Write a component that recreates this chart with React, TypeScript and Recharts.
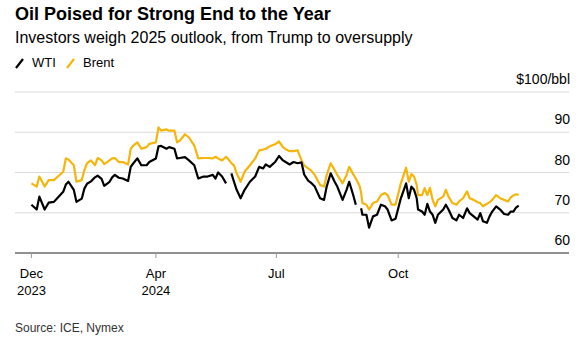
import { LineChart, Line, XAxis, YAxis, CartesianGrid } from 'recharts';

// daily-ish closes, $/bbl
const dates = [
  '2023-12-29', '2024-01-02', '2024-01-04', '2024-01-08', '2024-01-11', '2024-01-15', '2024-01-18', '2024-01-22',
  '2024-01-24', '2024-01-26', '2024-01-30', '2024-02-01', '2024-02-05', '2024-02-07', '2024-02-09', '2024-02-12',
  '2024-02-15', '2024-02-17', '2024-02-20', '2024-02-22', '2024-02-26', '2024-02-28', '2024-03-01', '2024-03-04',
  '2024-03-07', '2024-03-11', '2024-03-13', '2024-03-15', '2024-03-18', '2024-03-21', '2024-03-25', '2024-03-27',
  '2024-04-01', '2024-04-03', '2024-04-05', '2024-04-09', '2024-04-11', '2024-04-15', '2024-04-17', '2024-04-19',
  '2024-04-23', '2024-04-26', '2024-04-30', '2024-05-03', '2024-05-07', '2024-05-10', '2024-05-14', '2024-05-16',
  '2024-05-18', '2024-05-21', '2024-05-24', '2024-05-27', '2024-05-28', '2024-05-30', '2024-06-01', '2024-06-04',
  '2024-06-07', '2024-06-11', '2024-06-15', '2024-06-18', '2024-06-21', '2024-06-23', '2024-06-26', '2024-06-30',
  '2024-07-03', '2024-07-06', '2024-07-08', '2024-07-11', '2024-07-14', '2024-07-17', '2024-07-20', '2024-07-22',
  '2024-07-25', '2024-07-27', '2024-07-30', '2024-08-03', '2024-08-06', '2024-08-08', '2024-08-11', '2024-08-14',
  '2024-08-16', '2024-08-20', '2024-08-23', '2024-08-25', '2024-08-28', '2024-08-30', '2024-09-02', '2024-09-03',
  '2024-09-04', '2024-09-07', '2024-09-09', '2024-09-12', '2024-09-15', '2024-09-18', '2024-09-21', '2024-09-23',
  '2024-09-26', '2024-09-29', '2024-10-03', '2024-10-07', '2024-10-09', '2024-10-11', '2024-10-13', '2024-10-15',
  '2024-10-16', '2024-10-19', '2024-10-21', '2024-10-23', '2024-10-25', '2024-10-27', '2024-10-29', '2024-10-31',
  '2024-11-04', '2024-11-06', '2024-11-08', '2024-11-11', '2024-11-14', '2024-11-16', '2024-11-19', '2024-11-22',
  '2024-11-24', '2024-11-27', '2024-11-30', '2024-12-02', '2024-12-04', '2024-12-07', '2024-12-09', '2024-12-11',
  '2024-12-14', '2024-12-17', '2024-12-20', '2024-12-23', '2024-12-25', '2024-12-27', '2024-12-29', '2024-12-31',
];

const wti = [
  72.0, 70.8, 74.0, 70.8, 72.5, 72.7, 73.8, 75.2,
  77.0, 77.7, 75.7, 72.7, 73.5, 76.0, 77.2, 77.8,
  78.8, 79.2, 78.4, 76.7, 77.7, 78.8, 79.4, 78.7,
  78.5, 77.9, 81.4, 82.3, 83.5, 81.8, 81.8, 82.6,
  83.5, 86.5, 86.6, 85.9, 86.3, 85.9, 83.5, 83.6,
  83.8, 83.0, 81.8, 78.5, 79.0, 79.0, 79.4, 78.5,
  80.0, 79.0, 77.3, null, 79.8, 77.7, 75.7, 73.6,
  75.7, 77.7, 79.0, 81.4, 81.0, 82.0, 81.4, 82.6,
  84.1, 83.0, 82.6, 82.0, 82.6, 82.3, 82.5, 79.5,
  78.0, 77.5, 76.5, 73.6, 73.2, 76.5, 79.8, 77.7,
  76.5, 73.2, 75.7, 77.7, 74.4, 72.0, null, 71.1,
  69.5, 69.5, 66.3, 69.1, 69.5, 72.0, 71.6, 70.8,
  68.1, 68.5, 73.6, 77.3, 73.6, 76.5, 75.7, 73.6,
  70.8, 70.3, 69.5, 72.2, 70.3, 69.5, 67.5, 69.5,
  70.8, 72.0, 70.8, 68.7, 68.1, 69.5, 68.7, 71.1,
  69.9, 69.1, 68.3, 69.9, 67.9, 67.5, 69.1, 70.3,
  71.6, 70.8, 69.7, 69.5, 70.3, 70.3, 71.3, 71.8,
];

const brent = [
  77.3, 76.5, 79.0, 76.5, 78.1, 78.1, 79.0, 80.2,
  83.5, 83.2, 81.8, 77.7, 78.1, 80.6, 82.3, 83.0,
  81.8, 83.6, 83.0, 82.1, 83.0, 83.5, 83.6, 82.6,
  82.6, 82.0, 85.9, 86.7, 87.5, 85.9, 86.3, 87.1,
  87.5, 91.2, 90.4, 90.7, 90.4, 90.4, 87.5, 87.9,
  89.5, 88.7, 86.7, 83.5, 83.6, 83.6, 83.5, 83.9,
  83.5, 83.0, 83.9, 82.8, 82.3, 81.8, 79.8, 77.7,
  80.2, 81.8, 83.5, 85.5, 85.7, 85.9, 86.5, 87.0,
  87.7, 86.3, 85.8, 85.3, 85.3, 85.5, 83.0, 81.8,
  81.0, 80.6, 79.4, 76.9, 76.5, 79.4, 82.3, 80.6,
  79.4, 77.3, 79.4, 81.4, 79.6, 78.5, 76.5, 75.0,
  72.4, 72.0, 70.8, 72.4, 72.8, 74.4, 74.9, 74.4,
  72.0, 72.0, 77.3, 81.2, 77.7, 79.6, 79.0, 76.9,
  74.4, 74.4, 76.1, 74.4, 76.2, 73.2, 71.6, 73.2,
  74.0, 75.7, 74.0, 72.4, 72.0, 72.8, 73.6, 75.3,
  73.6, 73.2, 72.6, 72.4, 71.6, 72.2, 72.6, 73.2,
  74.4, 73.6, 73.2, 72.8, 73.8, 74.3, 74.6, 74.4,
];

const yTicks = [60, 70, 80, 90, 100];
const xTickDates = ['2023-12-29', '2024-04-01', '2024-07-01', '2024-10-01'];
const xTickMonths = ['Dec', 'Apr', 'Jul', 'Oct'];
const xTickYears = ['2023', '2024', '', ''];

const DAY = 86400000;
const start = Date.parse(dates[0]);
const xDomain = [start - 12.4 * DAY, start + 406 * DAY];
const xTicks = xTickDates.map((d) => Date.parse(d));

const rows = dates.map((d, i) => ({ t: Date.parse(d), wti: wti[i], brent: brent[i] }));

const BLACK = '#000000';
const YELLOW = '#f5b50a';
const FONT = '"Liberation Sans", Arial, Helvetica, sans-serif';

const YTick = (props: any) => {
  const { y, payload } = props;
  return (
    <text x={570} y={y - 8} textAnchor="end" fontSize={14} fill="#000" fontFamily={FONT}>
      {payload.value === 100 ? '$100/bbl' : payload.value}
    </text>
  );
};

const XTick = (props: any) => {
  const { x, y, payload } = props;
  const i = xTicks.indexOf(payload.value);
  return (
    <text x={x} y={y} textAnchor="middle" fontSize={13} fill="#000" fontFamily={FONT}>
      <tspan x={x} dy={18}>{xTickMonths[i]}</tspan>
      {xTickYears[i] && <tspan x={x} dy={17}>{xTickYears[i]}</tspan>}
    </text>
  );
};

const Slash = ({ color }: { color: string }) => (
  <svg width={9} height={11} style={{ position: 'absolute', top: 0 }}>
    <line x1={1} y1={10} x2={8} y2={1} stroke={color} strokeWidth={2.2} />
  </svg>
);

export default function App() {
  return (
    <div style={{ position: 'absolute', left: 0, top: 0, width: 581, height: 341, background: '#fff', fontFamily: FONT, color: '#000' }}>
      <div style={{ position: 'absolute', left: 15, top: 5, fontSize: 18, lineHeight: '18px', fontWeight: 700, whiteSpace: 'nowrap' }}>
        Oil Poised for Strong End to the Year
      </div>
      <div style={{ position: 'absolute', left: 15, top: 30, fontSize: 16, lineHeight: '16px', whiteSpace: 'nowrap' }}>
        Investors weigh 2025 outlook, from Trump to oversupply
      </div>
      <div style={{ position: 'absolute', left: 15, top: 58, width: 9, height: 11 }}>
        <Slash color={BLACK} />
      </div>
      <div style={{ position: 'absolute', left: 32, top: 56, fontSize: 13, lineHeight: '13px', whiteSpace: 'nowrap' }}>WTI</div>
      <div style={{ position: 'absolute', left: 66, top: 58, width: 9, height: 11 }}>
        <Slash color={YELLOW} />
      </div>
      <div style={{ position: 'absolute', left: 83, top: 56, fontSize: 13, lineHeight: '13px', whiteSpace: 'nowrap' }}>Brent</div>

      <div style={{ position: 'absolute', left: 0, top: 0 }}>
        <LineChart width={581} height={341} data={rows} margin={{ top: 92, right: 11, bottom: 48, left: 15 }}>
          <CartesianGrid vertical={false} stroke="#dadada" strokeWidth={1} />
          <XAxis
            dataKey="t"
            type="number"
            scale="linear"
            domain={xDomain}
            ticks={xTicks}
            interval={0}
            allowDataOverflow
            height={40}
            axisLine={{ stroke: '#333', strokeWidth: 1 }}
            tickLine={{ stroke: '#999', strokeWidth: 1 }}
            tickSize={5}
            tickMargin={2}
            tick={<XTick />}
          />
          <YAxis
            orientation="right"
            width={1}
            domain={[60, 100]}
            ticks={yTicks}
            interval={0}
            axisLine={false}
            tickLine={false}
            tickSize={0}
            tickMargin={0}
            tick={<YTick />}
            allowDataOverflow
          />
          <Line type="linear" dataKey="brent" stroke={YELLOW} strokeWidth={2.2} dot={false} isAnimationActive={false} strokeLinejoin="round" />
          <Line type="linear" dataKey="wti" stroke={BLACK} strokeWidth={2.2} dot={false} isAnimationActive={false} strokeLinejoin="round" />
        </LineChart>
      </div>

      <div style={{ position: 'absolute', left: 15, top: 322, fontSize: 12, lineHeight: '12px', color: '#333', whiteSpace: 'nowrap' }}>
        Source: ICE, Nymex
      </div>
    </div>
  );
}
